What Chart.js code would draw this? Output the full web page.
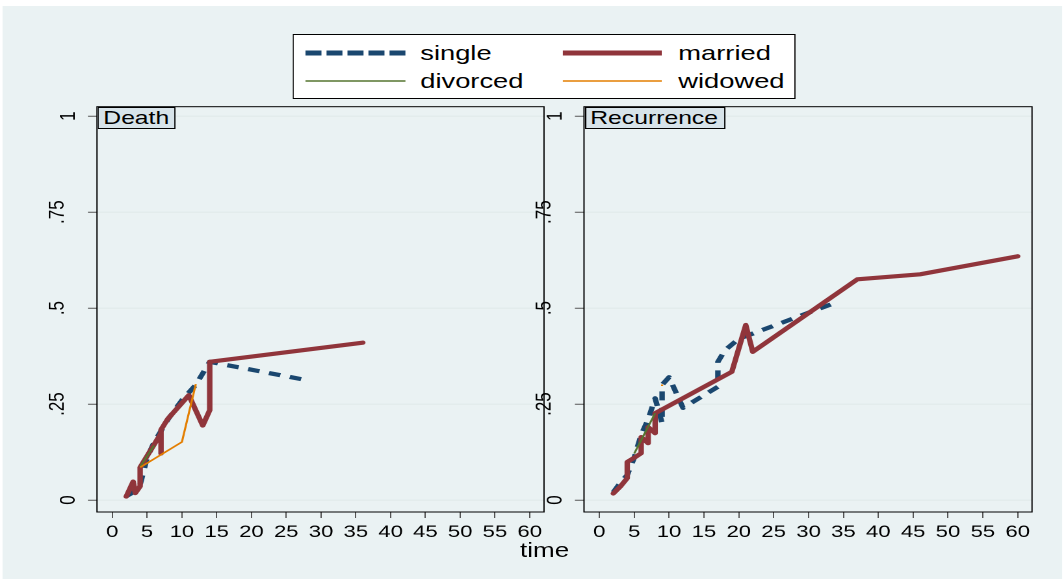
<!DOCTYPE html>
<html>
<head>
<meta charset="utf-8">
<script src="https://cdn.jsdelivr.net/npm/chart.js@4/dist/chart.umd.min.js"></script>
<style>
  html, body { margin: 0; padding: 0; background: #fff; overflow: hidden; width: 1064px; height: 581px; }
  #stage { position: absolute; left: 0; top: 0; height: 581px; transform-origin: 0 0;
           font-family: "Liberation Sans", Arial, sans-serif; color: #000; }
  #bg { position: absolute; background: #EAF2F3; }
  #stage canvas { position: absolute; left: 0; top: 0; }
  #legend { position: absolute; box-sizing: border-box; border: 1px solid #000; background: #fff; z-index: 3; }
  .ltext { position: absolute; white-space: nowrap; }
  .swatch { position: absolute; overflow: visible; }
  .ptitle { position: absolute; box-sizing: border-box; border: 1px solid #000; background: #D7E3E9;
            white-space: nowrap; z-index: 3; }
  #xtitle { position: absolute; white-space: nowrap; z-index: 3; }
</style>
</head>
<body>
<div id="stage">
  <div id="bg"></div>
  <canvas id="deathChart"></canvas>
  <canvas id="recurChart"></canvas>
  <div id="legend"></div>
  <div class="ptitle" id="title0"></div>
  <div class="ptitle" id="title1"></div>
  <div id="xtitle"></div>
</div>
<script>
// ---------------- data ----------------
const xTickValues = [0, 5, 10, 15, 20, 25, 30, 35, 40, 45, 50, 55, 60];
const xTickLabels = ['0', '5', '10', '15', '20', '25', '30', '35', '40', '45', '50', '55', '60'];
const yTickValues = [0, 0.25, 0.5, 0.75, 1];
const yTickLabels = ['0', '.25', '.5', '.75', '1'];
const seriesNames = ['single', 'married', 'divorced', 'widowed'];
const panelTitles = ['Death', 'Recurrence'];
const xAxisTitle = 'time';

// Death
const deathSingleTime    = [2, 3, 4, 5, 6, 8, 10, 11, 12, 14, 28];
const deathSingleValue   = [0.010, 0.020, 0.040, 0.110, 0.150, 0.210, 0.260, 0.280, 0.300, 0.360, 0.312];
const deathMarriedTime   = [2, 3, 3.3, 4, 4, 7, 7, 7, 8, 11, 13, 14, 14, 36];
const deathMarriedValue  = [0.009, 0.048, 0.018, 0.036, 0.085, 0.174, 0.121, 0.183, 0.212, 0.273, 0.194, 0.234, 0.360, 0.410];
const deathDivorcedTime  = [4, 6];
const deathDivorcedValue = [0.087, 0.142];
const deathWidowedTime   = [4, 10, 12];
const deathWidowedValue  = [0.085, 0.151, 0.302];

// Recurrence
const recurSingleTime    = [2, 3, 4, 5, 6, 7, 8, 9, 9, 10, 11, 12, 17, 17, 18, 20, 34];
const recurSingleValue   = [0.020, 0.045, 0.065, 0.110, 0.170, 0.210, 0.265, 0.200, 0.300, 0.320, 0.280, 0.240, 0.295, 0.360, 0.390, 0.420, 0.515];
const recurMarriedTime   = [2, 3, 4, 4, 5, 6, 6, 7, 7, 8, 8, 19, 21, 22, 37, 46, 60];
const recurMarriedValue  = [0.017, 0.035, 0.057, 0.099, 0.110, 0.122, 0.164, 0.148, 0.190, 0.174, 0.226, 0.334, 0.456, 0.386, 0.575, 0.588, 0.635];
const recurDivorcedTime  = [5, 8];
const recurDivorcedValue = [0.121, 0.226];
const recurWidowedTime   = [9, 9];
const recurWidowedValue  = [0.297, 0.301];

// ---------------- styles ----------------
const seriesStyle = {
  single:   { color: '#1A476F', width: 4.2, dash: [9, 7.5], cap: 'butt',  order: 4, legendDash: '12.3 3.85', legendWidth: 5 },
  married:  { color: '#90353B', width: 4.2, dash: [],       cap: 'round', order: 3, legendDash: '',          legendWidth: 5 },
  divorced: { color: '#55752F', width: 1.6, dash: [],       cap: 'butt',  order: 2, legendDash: '',          legendWidth: 1.7 },
  widowed:  { color: '#E37E00', width: 1.6, dash: [],       cap: 'butt',  order: 1, legendDash: '',          legendWidth: 1.7 }
};
const FONT = '"Liberation Sans", Arial, sans-serif';

// The figure is laid out in page pixels and drawn on a stage that is
// stretched horizontally by S (text and marks share the same aspect).
const S = 1.3;
const W = 1064 / S, H = 581;
const sx = x => x / S;

const PLOT_TOP = 106.7, PLOT_BOTTOM = 512;
const PANELS = [ { left: 97, right: 544 }, { left: 584, right: 1032 } ];
const X_MIN = -2.2, X_MAX = 62.05;
const Y_MIN = -0.03125, Y_MAX = 1.0247;
// fractional y labels sit further out from the axis than the integer ones
const Y_LABEL_SHIFT = 11;

const stage = document.getElementById('stage');
stage.style.width = W + 'px';
stage.style.transform = 'scaleX(' + S + ')';

function place(el, x, y, w, h) {
  el.style.left = sx(x) + 'px';
  el.style.top = y + 'px';
  if (w !== undefined) el.style.width = sx(w) + 'px';
  if (h !== undefined) el.style.height = h + 'px';
}
// position a text element by its left edge and baseline
function placeText(el, x, baseline, size) {
  el.style.fontSize = size + 'px';
  el.style.lineHeight = size + 'px';
  el.style.left = sx(x) + 'px';
  el.style.top = (baseline - 0.8465 * size) + 'px';
}

place(document.getElementById('bg'), 2, 6, 1060, 573);

// ---------------- legend ----------------
const legend = document.getElementById('legend');
const LEG = { x: 293, y: 34, w: 503, h: 65 };
place(legend, LEG.x, LEG.y, LEG.w, LEG.h);
const legendSlots = [
  { line: [305, 405], y: 53, text: 420, base: 60 },
  { line: [563, 662], y: 53, text: 678, base: 60 },
  { line: [305, 405], y: 81, text: 420, base: 88 },
  { line: [563, 662], y: 81, text: 678, base: 88 }
];
const NS = 'http://www.w3.org/2000/svg';
seriesNames.forEach((name, i) => {
  const slot = legendSlots[i], st = seriesStyle[name];
  const ox = LEG.x + 1, oy = LEG.y + 1;
  const svg = document.createElementNS(NS, 'svg');
  const len = sx(slot.line[1] - slot.line[0]);
  svg.setAttribute('class', 'swatch');
  svg.setAttribute('width', len);
  svg.setAttribute('height', 10);
  svg.style.left = sx(slot.line[0] - ox) + 'px';
  svg.style.top = (slot.y - oy - 5) + 'px';
  const ln = document.createElementNS(NS, 'line');
  ln.setAttribute('x1', 0); ln.setAttribute('y1', 5);
  ln.setAttribute('x2', len); ln.setAttribute('y2', 5);
  ln.setAttribute('stroke', st.color);
  ln.setAttribute('stroke-width', st.legendWidth);
  if (st.legendDash) ln.setAttribute('stroke-dasharray', st.legendDash);
  svg.appendChild(ln);
  legend.appendChild(svg);
  const t = document.createElement('div');
  t.className = 'ltext';
  t.textContent = name;
  placeText(t, slot.text - ox, slot.base - oy, 21);
  legend.appendChild(t);
});

// ---------------- panel titles & axis title ----------------
const titleBoxes = [ { x: 97, w: 78, pad: 5 }, { x: 585, w: 140, pad: 4 } ];
panelTitles.forEach((txt, i) => {
  const el = document.getElementById('title' + i);
  const b = titleBoxes[i];
  place(el, b.x, 106.5, b.w, 22);
  el.style.fontSize = '19px';
  el.style.lineHeight = '20px';
  el.style.paddingLeft = sx(b.pad) + 'px';
  el.textContent = txt;
});
const xt = document.getElementById('xtitle');
xt.textContent = xAxisTitle;
placeText(xt, 520, 557, 20);

// ---------------- charts ----------------
const framePlugin = {
  id: 'frame',
  afterDraw(chart) {
    const { ctx, chartArea: a } = chart;
    ctx.save();
    ctx.strokeStyle = '#000';
    ctx.lineWidth = 1;
    ctx.strokeRect(a.left, a.top, a.right - a.left, a.bottom - a.top);
    ctx.restore();
  }
};

function makeSeries(name, times, values) {
  const st = seriesStyle[name];
  return {
    label: name,
    data: times.map((t, i) => ({ x: t, y: values[i] })),
    borderColor: st.color,
    borderWidth: st.width,
    borderDash: st.dash,
    borderCapStyle: st.cap,
    borderJoinStyle: 'round',
    pointRadius: 0,
    tension: 0,
    fill: false,
    order: st.order
  };
}

function makePanel(canvasId, datasets, panel) {
  const Y_AXIS_W = 40, X_AXIS_H = 40;
  const canvas = document.getElementById(canvasId);
  canvas.width = Math.round(W);
  canvas.height = H;
  return new Chart(canvas, {
    type: 'line',
    data: { datasets },
    plugins: [framePlugin],
    options: {
      responsive: false,
      animation: false,
      devicePixelRatio: 2,
      events: [],
      layout: { padding: {
        left: sx(panel.left) - Y_AXIS_W,
        right: Math.round(W) - sx(panel.right),
        top: PLOT_TOP,
        bottom: H - PLOT_BOTTOM - X_AXIS_H
      } },
      plugins: { legend: { display: false }, tooltip: { enabled: false } },
      scales: {
        x: {
          type: 'linear', min: X_MIN, max: X_MAX,
          afterBuildTicks: s => { s.ticks = xTickValues.map(v => ({ value: v })); },
          afterFit: s => { s.height = X_AXIS_H; },
          ticks: { autoSkip: false, maxRotation: 0, minRotation: 0, padding: 4, color: '#000',
                   font: { family: FONT, size: 17 },
                   callback: (v, i) => xTickLabels[i] },
          grid: { drawOnChartArea: false, tickLength: 6, tickColor: '#555', tickWidth: 1 },
          border: { display: false }
        },
        y: {
          type: 'linear', min: Y_MIN, max: Y_MAX,
          afterBuildTicks: s => { s.ticks = yTickValues.map(v => ({ value: v })); },
          afterFit: s => { s.width = Y_AXIS_W; },
          ticks: { minRotation: 90, maxRotation: 90, crossAlign: 'center', padding: 3, color: '#000',
                   // a second, empty line moves a rotated label outwards by half its line height
                   font: { family: FONT, size: 17, lineHeight: (2 * Y_LABEL_SHIFT / S) + 'px' },
                   callback: (v, i) => {
                     const lab = yTickLabels[i];
                     return lab.charAt(0) === '.' ? [lab, ''] : lab;
                   } },
          grid: { color: '#E3ECEC', lineWidth: 1.5, tickLength: 7, tickColor: '#555', tickWidth: 1 },
          border: { display: false }
        }
      }
    }
  });
}

makePanel('deathChart', [
  makeSeries('single',   deathSingleTime,   deathSingleValue),
  makeSeries('married',  deathMarriedTime,  deathMarriedValue),
  makeSeries('divorced', deathDivorcedTime, deathDivorcedValue),
  makeSeries('widowed',  deathWidowedTime,  deathWidowedValue)
], PANELS[0]);

makePanel('recurChart', [
  makeSeries('single',   recurSingleTime,   recurSingleValue),
  makeSeries('married',  recurMarriedTime,  recurMarriedValue),
  makeSeries('divorced', recurDivorcedTime, recurDivorcedValue),
  makeSeries('widowed',  recurWidowedTime,  recurWidowedValue)
], PANELS[1]);
</script>
</body>
</html>
